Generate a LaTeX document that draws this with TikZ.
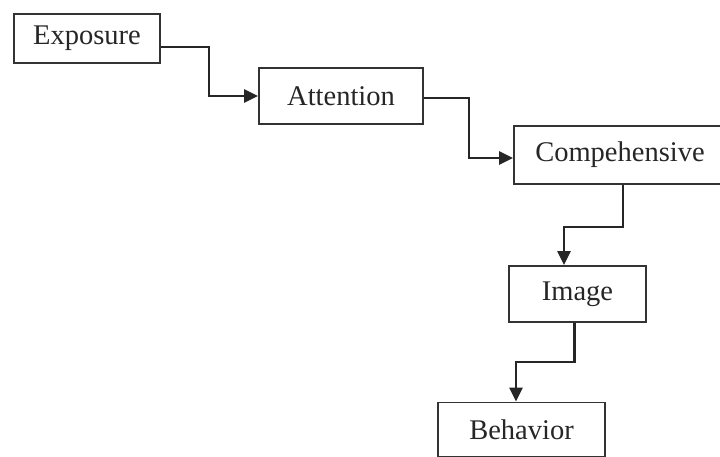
\documentclass[tikz,border=0pt]{standalone}
\usepackage{fontspec}
\setmainfont{Liberation Serif}
\usetikzlibrary{arrows.meta}
\begin{document}
\begin{tikzpicture}[x=1pt,y=-1pt,
  box/.style={draw=black!80, line width=1.8pt, inner sep=0pt, font=\fontsize{28.5}{31}\selectfont, text=black!85},
  conn/.style={draw=black!85, line width=2.3pt, -{Triangle[length=14pt,width=13pt]}}]
\useasboundingbox (0,0) rectangle (720,457);
\node[box, minimum width=146pt, minimum height=49pt] (Exposure) at (87,38.5) {Exposure};
\node[box, minimum width=164pt, minimum height=56pt] (Attention) at (341,96) {Attention};
\node[box, minimum width=212pt, minimum height=58pt] (Comp) at (620,155) {Compehensive};
\node[box, minimum width=137pt, minimum height=56pt] (Image) at (577.5,294) {Image};
\node[box, minimum width=167pt, minimum height=54pt] (Behavior) at (521.5,429.5) {Behavior};
\draw[conn] ([yshift=-8.5pt]Exposure.east) -- ++(48,0) |- (Attention.west);
\draw[conn] ([yshift=-2pt]Attention.east) -- ++(45,0) |- ([yshift=-3pt]Comp.west);
\draw[conn] ([xshift=3pt]Comp.south) -- ++(0,42) -| ([xshift=-13.5pt]Image.north);
\draw[conn] ([xshift=-3pt]Image.south) -- ++(0,39) -| ([xshift=-5.5pt]Behavior.north);
\end{tikzpicture}
\end{document}
